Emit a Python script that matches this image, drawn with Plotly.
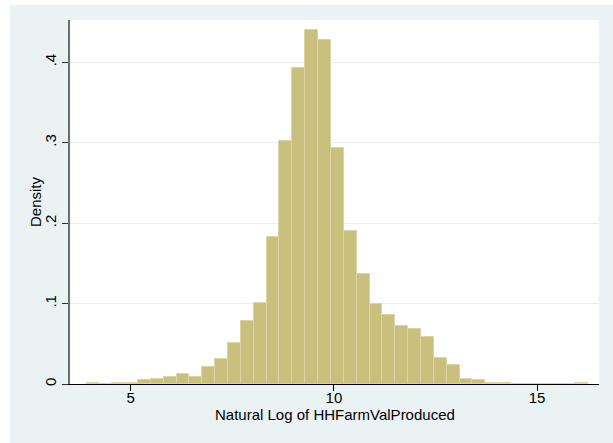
import plotly.graph_objects as go

# Histogram data (density)
bin_start = 3.912
bin_width = 0.3166
density = [0.0016, 0.0, 0.0016, 0.0016, 0.0053, 0.0066, 0.009, 0.013, 0.009,
           0.0215, 0.031, 0.0513, 0.078, 0.1006, 0.1834, 0.302, 0.3925, 0.4399,
           0.4275, 0.2935, 0.190, 0.137, 0.0998, 0.0857, 0.0725, 0.0687, 0.0584,
           0.0323, 0.024, 0.0066, 0.0053, 0.0016, 0.0014, 0.0, 0.0, 0.0, 0.0,
           0.0, 0.0016]
x_ticks = [5, 10, 15]
x_tick_labels = ["5", "10", "15"]
y_ticks = [0, 0.1, 0.2, 0.3, 0.4]
y_tick_labels = ["0", ".1", ".2", ".3", ".4"]
x_title = "Natural Log of HHFarmValProduced"
y_title = "Density"

centers = [bin_start + bin_width * (i + 0.5) for i in range(len(density))]

W, H = 613, 443
ml, mr, mt, mb = 70, 14, 20, 59
pw, ph = W - ml - mr, H - mt - mb

bg = "#EAF2F3"
font = "Liberation Sans, Arial, sans-serif"

fig = go.Figure()
fig.add_trace(go.Bar(
    x=centers, y=density, width=bin_width,
    marker=dict(color="#C9C07D", line=dict(color="#DCD5A3", width=1)),
    hoverinfo="skip",
))

def px_x(p):
    return (p - ml) / pw

def px_y(p):
    return (H - mb - p) / ph

shapes = [
    dict(type="rect", xref="paper", yref="paper", layer="below",
         x0=px_x(10), x1=px_x(W + 5), y0=px_y(H + 5), y1=px_y(5),
         fillcolor=bg, line=dict(width=0)),
    dict(type="rect", xref="paper", yref="paper", layer="below",
         x0=0, x1=1, y0=0, y1=1, fillcolor="white", line=dict(width=0)),
]

annotations = [
    dict(text=x_title, xref="paper", yref="paper", x=0.5, y=px_y(415),
         xanchor="center", yanchor="middle", showarrow=False,
         font=dict(size=15, color="black")),
    dict(text=y_title, xref="paper", yref="paper", x=px_x(35), y=0.5,
         xanchor="center", yanchor="middle", showarrow=False, textangle=-90,
         font=dict(size=15, color="black")),
]

fig.update_layout(
    width=W, height=H,
    margin=dict(l=ml, r=mr, t=mt, b=mb),
    paper_bgcolor="white", plot_bgcolor="white",
    bargap=0, showlegend=False,
    font=dict(family=font, size=15, color="black"),
    shapes=shapes, annotations=annotations,
    xaxis=dict(
        range=[3.505, 16.525], tickvals=x_ticks, ticktext=x_tick_labels,
        ticks="outside", ticklen=6, tickcolor="black", tickwidth=1,
        ticklabelstandoff=-6,
        showline=True, linecolor="black", linewidth=1,
        showgrid=False, zeroline=False,
        tickfont=dict(size=15),
    ),
    yaxis=dict(
        range=[0, 0.4526], tickvals=y_ticks, ticktext=y_tick_labels,
        ticks="outside", ticklen=6, tickcolor="#333333", tickwidth=1,
        tickangle=-90,
        showline=True, linecolor="#6e6e6e", linewidth=2,
        showgrid=True, gridcolor="#E6EEF0", gridwidth=1,
        zeroline=False,
        tickfont=dict(size=15),
    ),
)

fig.write_html("out.html")
